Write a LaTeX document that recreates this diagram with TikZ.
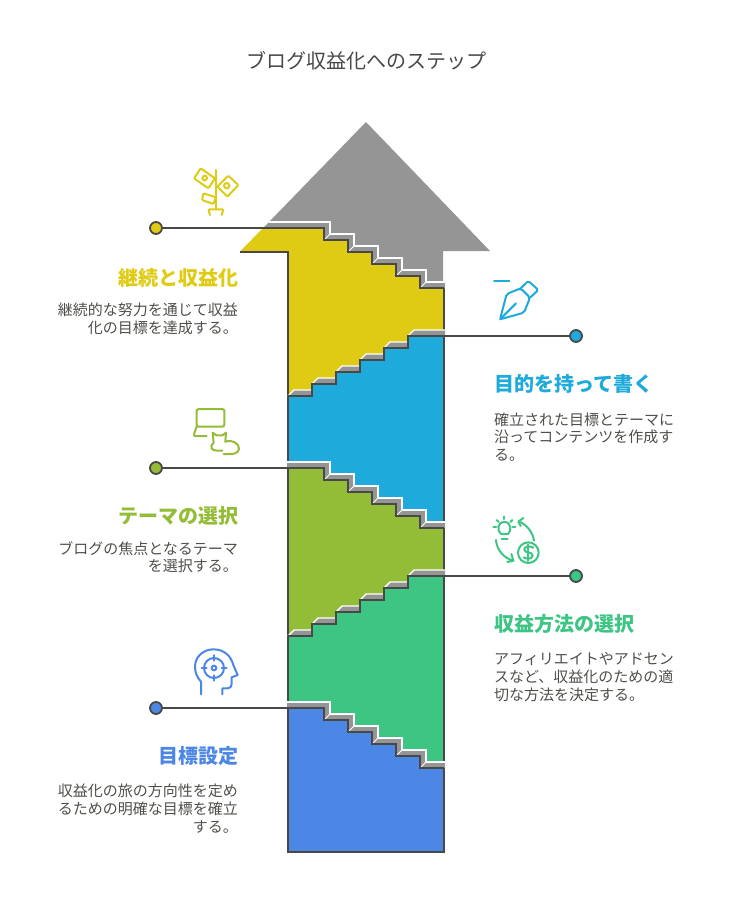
\documentclass[tikz,border=0pt]{standalone}
\usepackage{fontspec}
\setmainfont{Noto Sans CJK JP}
\definecolor{ink}{HTML}{484848}
\definecolor{copy}{HTML}{4F4F4A}
\definecolor{tread}{HTML}{959595}
\definecolor{jaune}{HTML}{DFCB14}
\definecolor{bleu}{HTML}{1EAADB}
\definecolor{olive}{HTML}{93BC37}
\definecolor{menthe}{HTML}{3CC583}
\definecolor{azur}{HTML}{4C87E5}
\tikzset{
  dot/.style={circle,draw=ink,line width=1.8pt,minimum size=12pt,inner sep=0pt},
  wire/.style={ink,line width=1.8pt},
  edge/.style={ink,line width=2pt,line join=miter},
  icon/.style={line width=2pt,line cap=round,line join=round},
  heading/.style={inner sep=0pt,font=\fontsize{20}{24}\selectfont\bfseries},
  blurb/.style={inner sep=0pt,text=copy,font=\fontsize{15}{17.6}\selectfont},
}
% stair outlines, #1 is the height of the upper landing
\newcommand{\stairdown}[1]{(324,#1) -- (324,#1+12) -- (348,#1+12) -- (348,#1+24) -- (372,#1+24) -- (372,#1+36) -- (396,#1+36) -- (396,#1+48) -- (420,#1+48) -- (420,#1+60) -- (444,#1+60)}
\newcommand{\stairup}[1]{(444,#1) -- (408,#1) -- (408,#1+12) -- (384,#1+12) -- (384,#1+24) -- (360,#1+24) -- (360,#1+36) -- (336,#1+36) -- (336,#1+48) -- (312,#1+48) -- (312,#1+60) -- (288,#1+60)}
\begin{document}
\begin{tikzpicture}[x=1pt,y=-1pt]
\useasboundingbox (0,0) rectangle (732,912);

\node[inner sep=0pt,text=ink,font=\fontsize{20}{24}\selectfont] (title) at (366,61) {ブログ収益化へのステップ};

% head
\fill[tread] (366,122) -- (490,251) -- (443,251) -- (443,295) -- (288,295) -- (288,240) -- (269,222) -- cycle;

% bands, from the top down
\fill[jaune] (240,251.5) -- (263,228) -- \stairdown{228} -- (444,400) -- (288,400) -- (288,251.5) -- cycle;
\fill[bleu] \stairup{336} -- (288,530) -- (444,530) -- cycle;
\fill[olive] (288,468) -- \stairdown{468} -- (444,640) -- (288,640) -- cycle;
\fill[menthe] \stairup{576} -- (288,770) -- (444,770) -- cycle;
\fill[azur] (288,708) -- \stairdown{708} -- (444,852) -- (288,852) -- cycle;

\draw[edge] (240,251.5) -- (288,251.5) -- (288,852) -- (444,852) -- (444,288);

% treads going down to the right
\foreach \y/\xa/\xb in {228/263/269,468/287/287,708/287/287}
{
  \fill[tread] (\xa,\y) -- \stairdown{\y} -- (445,\y+60) -- (445,\y+54) -- (426,\y+54) -- (426,\y+42) -- (402,\y+42) -- (402,\y+30) -- (378,\y+30) -- (378,\y+18) -- (354,\y+18) -- (354,\y+6) -- (330,\y+6) -- (330,\y-6) -- (\xb,\y-6) -- cycle;
  \draw[white,line width=1.4pt] (\xb,\y-6) -- (330,\y-6) -- (330,\y+6) -- (354,\y+6) -- (354,\y+18) -- (378,\y+18) -- (378,\y+30) -- (402,\y+30) -- (402,\y+42) -- (426,\y+42) -- (426,\y+54) -- (445,\y+54);
  \foreach \i in {1,...,5}
    \draw[white,line width=1pt] (300+\i*24,\y+\i*12) -- (306+\i*24,\y+\i*12-6);
}

% treads going up to the right
\foreach \y in {336,576}
{
  \foreach \i/\x/\w in {0/408/37,1/384/24,2/360/24,3/336/24,4/312/24,5/288/24}
  {
    \fill[tread] (\x,\y+\i*12) -- (\x+\w,\y+\i*12) -- (\x+\w,\y+\i*12-6) -- (\x+6,\y+\i*12-6) -- cycle;
    \draw[white,line width=1.4pt] (\x,\y+\i*12) -- (\x+6,\y+\i*12-6) -- (\x+\w,\y+\i*12-6);
  }
}

\draw[edge] (288,228) -- \stairdown{228};
\draw[edge] \stairup{336};
\draw[edge] (288,468) -- \stairdown{468};
\draw[edge] \stairup{576};
\draw[edge] (288,708) -- \stairdown{708};

% markers
\coordinate (footyellow) at (324,228);
\coordinate (footblue) at (444,336);
\coordinate (footolive) at (288,468);
\coordinate (footmint) at (444,576);
\coordinate (footazure) at (288,708);
\node[dot,fill=jaune] (dotyellow) at (156,228) {};
\node[dot,fill=bleu] (dotblue) at (576,336) {};
\node[dot,fill=olive] (dotolive) at (156,468) {};
\node[dot,fill=menthe] (dotmint) at (576,576) {};
\node[dot,fill=azur] (dotazure) at (156,708) {};
\draw[wire] (dotyellow) -- (footyellow);
\draw[wire] (dotblue) -- (footblue);
\draw[wire] (dotolive) -- (footolive);
\draw[wire] (dotmint) -- (footmint);
\draw[wire] (dotazure) -- (footazure);

% labels
\node[heading,text=jaune,anchor=east] (headyellow) at (239,278) {継続と収益化};
\node[blurb,align=right,anchor=north east] (textyellow) at (238,303) {継続的な努力を通じて収益\\化の目標を達成する。};
\node[heading,text=bleu,anchor=west] (headblue) at (494,384) {目的を持って書く};
\node[blurb,align=left,anchor=north west] (textblue) at (494,412.5) {確立された目標とテーマに\\沿ってコンテンツを作成す\\る。};
\node[heading,text=olive,anchor=east] (headolive) at (239,516) {テーマの選択};
\node[blurb,align=right,anchor=north east] (textolive) at (238,541) {ブログの焦点となるテーマ\\を選択する。};
\node[heading,text=menthe,anchor=west] (headmint) at (494,624) {収益方法の選択};
\node[blurb,align=left,anchor=north west] (textmint) at (494,652.5) {アフィリエイトやアドセン\\スなど、収益化のための適\\切な方法を決定する。};
\node[heading,text=azur,anchor=east] (headazure) at (239,756) {目標設定};
\node[blurb,align=right,anchor=north east] (textazure) at (238,784) {収益化の旅の方向性を定め\\るための明確な目標を確立\\する。};

% plant
\begin{scope}[shift={(140,160)},scale=1/3,icon,jaune]
  \draw (228,30) -- (228,145);
  \draw[rounded corners=1pt] (182,25) -- (225,55) -- (205,85) -- (162,55) -- cycle;
  \draw (194,54) circle (7);
  \draw[rounded corners=1pt] (265,47) -- (295,75) -- (262,110) -- (232,80) -- cycle;
  \draw (260,77) circle (8);
  \draw[rounded corners=1pt] (190,100) -- (228,112) -- (220,132) -- (186,120) -- cycle;
  \draw[rounded corners=1pt] (210,165) -- (205,148) -- (250,148) -- (245,165);
\end{scope}

% pen
\begin{scope}[shift={(480,270)},scale=1/3,icon,bleu]
  \draw (42,33) -- (88,33);
  \draw[rounded corners=2pt] (60,148) -- (80,72) -- (122,55) -- (150,83) -- (132,128) -- cycle;
  \draw[rounded corners=1.5pt] (122,55) -- (145,33) -- (175,60) -- (150,83);
  \draw (60,148) -- (108,100);
\end{scope}

% laptop and cat
\begin{scope}[shift={(145,400)},scale=1/3,icon,olive]
  \draw[rounded corners=2pt] (155,80) -- (155,27) -- (238,27) -- (238,80) -- cycle;
  \draw[rounded corners=2pt] (155,80) -- (145,108) -- (185,108);
  \draw (203,98) -- (214,106) -- (232,106) -- (243,98) -- (241,125);
  \draw (203,98) -- (206,128) .. controls (192,140) and (200,152) .. (215,152) -- (232,152);
  \draw (241,125) .. controls (262,118) and (282,130) .. (282,146) .. controls (282,160) and (265,164) .. (236,162);
\end{scope}

% bulb and coin
\begin{scope}[shift={(480,510)},scale=1/3,icon,menthe]
  \draw (63,72) .. controls (50,62) and (52,36) .. (73,36) .. controls (94,36) and (96,62) .. (84,72) -- cycle;
  \draw (65,87) -- (83,87);
  \foreach \xa/\ya/\xb/\yb in {73/20/73/27,50/30/56/36,97/30/91/36,40/50/48/50,98/50/106/50}
    \draw (\xa,\ya) -- (\xb,\yb);
  \draw (145,128) circle (31);
  \draw (160,113) .. controls (150,106) and (130,110) .. (133,120) .. controls (135,130) and (158,124) .. (158,137) .. controls (158,148) and (138,148) .. (131,142);
  \draw (145,103) -- (145,153);
  \draw (162,92) .. controls (158,65) and (140,45) .. (118,35);
  \draw (130,24) -- (115,35) -- (122,48);
  \draw (48,90) .. controls (50,120) and (72,145) .. (100,152);
  \draw (82,156) -- (100,152) -- (94,132);
\end{scope}

% head with target
\begin{scope}[shift={(145,640)},scale=1/3,icon,azur]
  \draw (168,163) -- (168,125) .. controls (155,112) and (150,95) .. (150,80) .. controls (150,50) and (175,28) .. (205,28) .. controls (240,28) and (258,50) .. (265,75) -- (278,105) -- (260,112) -- (260,132) .. controls (260,140) and (255,145) .. (248,145) -- (232,145) -- (232,163);
  \draw (207,84) circle (30);
  \draw (207,84) circle (7);
  \draw (207,45) -- (207,62);
  \draw (207,106) -- (207,122);
  \draw (170,84) -- (185,84);
  \draw (230,84) -- (245,84);
\end{scope}
\end{tikzpicture}
\end{document}
